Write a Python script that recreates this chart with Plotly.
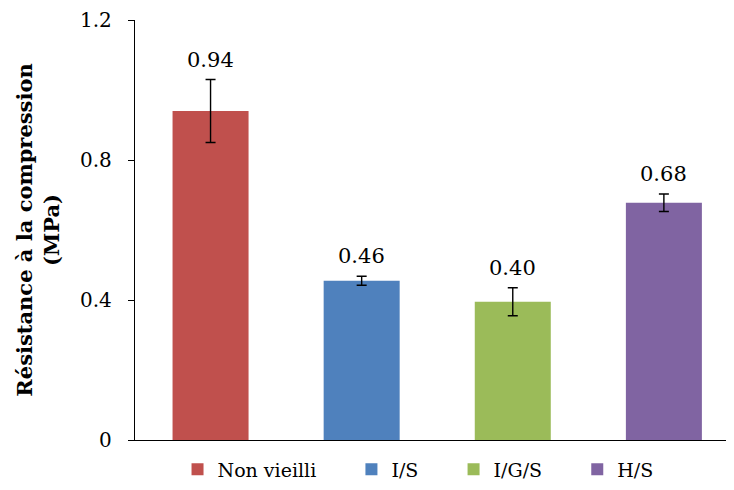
import plotly.graph_objects as go

categories = ["Non vieilli", "I/S", "I/G/S", "H/S"]
values = [0.94, 0.455, 0.395, 0.678]
errors = [0.09, 0.013, 0.04, 0.025]
value_labels = ["0.94", "0.46", "0.40", "0.68"]
colors = ["#C0504D", "#4F81BD", "#9BBB59", "#8064A2"]
y_ticks = [0, 0.4, 0.8, 1.2]
y_tick_labels = ["0", "0.4", "0.8", "1.2"]

FONT = "DejaVu Serif"
PAD = "\u00a0" * 5  # extra spacing after each legend entry

fig = go.Figure()
for i, cat in enumerate(categories):
    fig.add_trace(go.Bar(
        x=[cat], y=[values[i]], name=cat + PAD,
        marker=dict(color=colors[i], line=dict(width=0)),
        width=0.503,
        error_y=dict(type="data", array=[errors[i]], color="black",
                     thickness=1.4, width=5),
    ))

for i, cat in enumerate(categories):
    fig.add_annotation(
        x=cat, y=values[i] + errors[i], text=value_labels[i],
        showarrow=False, yanchor="middle", yshift=20,
        font=dict(family=FONT, size=21, color="black"),
    )

fig.update_layout(
    width=726, height=482,
    margin=dict(l=127, r=0, t=10, b=50),
    plot_bgcolor="white", paper_bgcolor="white",
    barmode="overlay",
    showlegend=True,
    legend=dict(orientation="h", x=0.071, xanchor="left", y=-0.07,
                yanchor="middle", font=dict(family=FONT, size=19, color="black"),
                itemwidth=30),
    font=dict(family=FONT, color="black"),
)
fig.update_xaxes(
    type="category", categoryorder="array", categoryarray=categories,
    range=[-0.5, 3.464], showline=True, linecolor="black", linewidth=1.3,
    showticklabels=False, ticks="", showgrid=False, zeroline=False,
)
fig.update_yaxes(
    range=[0, 1.2], tickvals=y_ticks, ticktext=y_tick_labels,
    ticks="outside", ticklen=6, tickcolor="black", tickwidth=1.3,
    ticklabelstandoff=12, ticklabeloverflow="allow",
    showline=True, linecolor="black", linewidth=1.3,
    showgrid=False, zeroline=False,
    tickfont=dict(family=FONT, size=20, color="black"),
    title=dict(text="<b>Résistance à la compression<br>(MPa)</b>",
               font=dict(family=FONT, size=21, color="black"), standoff=14),
)

fig.write_html("out.html")
